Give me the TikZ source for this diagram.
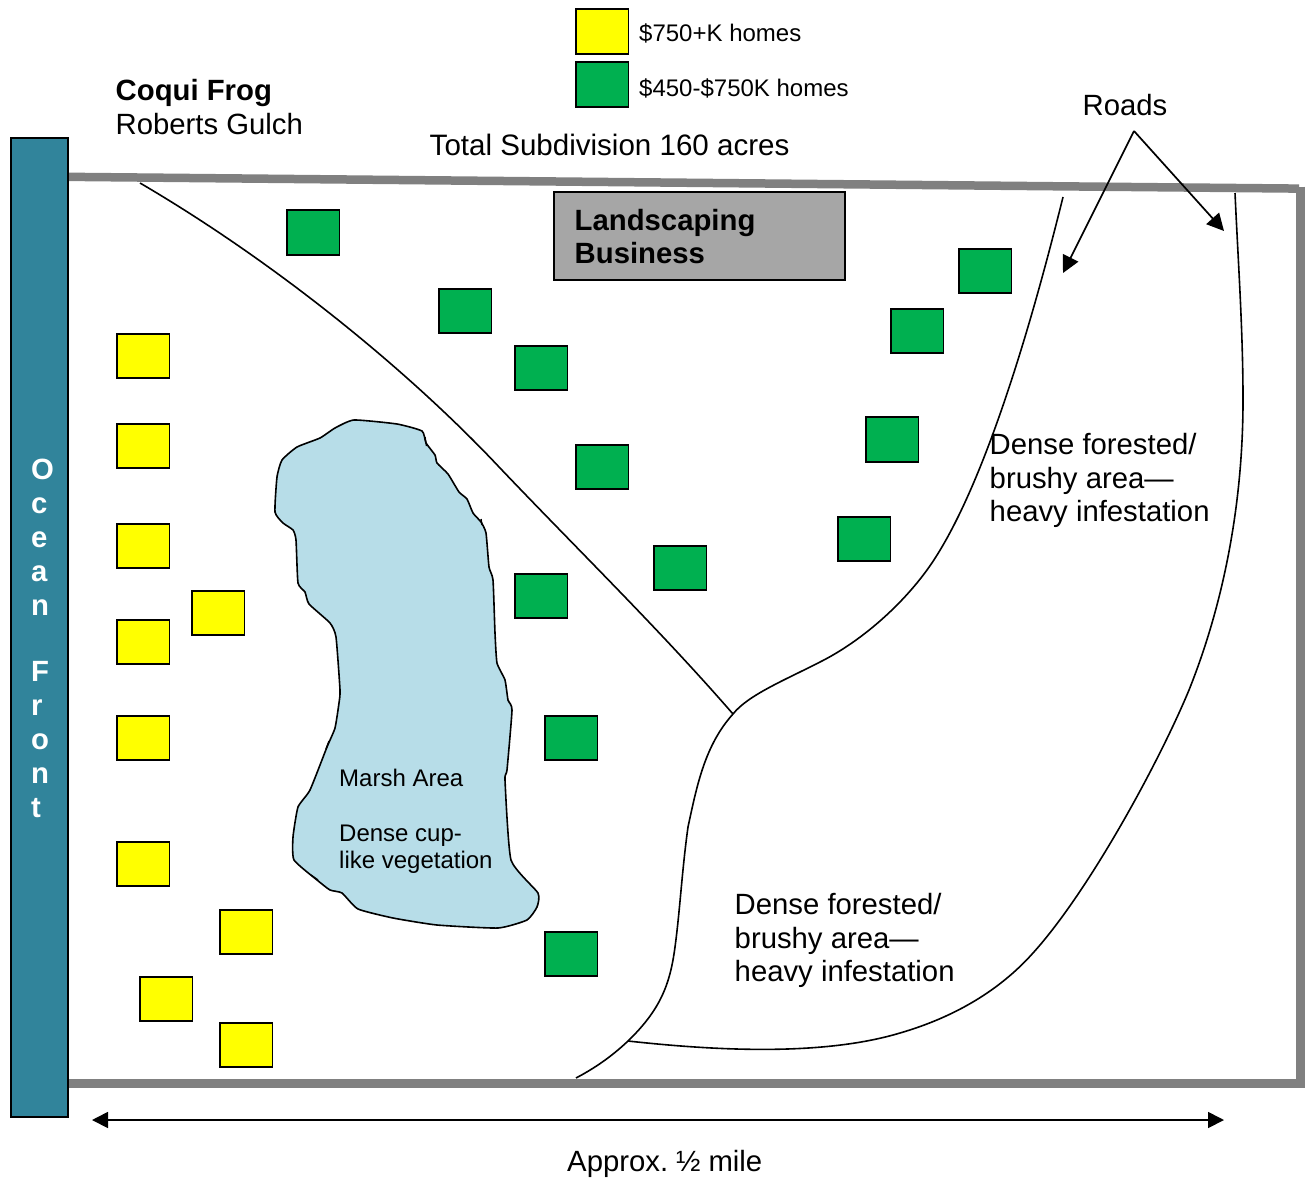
\documentclass[tikz,border=0pt]{standalone}
\usepackage{fontspec}
\setmainfont{Liberation Sans}
\usetikzlibrary{arrows.meta}
\definecolor{homeyellow}{HTML}{FFFF00}
\definecolor{homegreen}{HTML}{00B050}
\definecolor{marshblue}{HTML}{B7DDE8}
\definecolor{oceanteal}{HTML}{31849B}
\definecolor{shopgray}{HTML}{A6A6A6}
\definecolor{fencegray}{HTML}{808080}
\tikzset{
  house/.style={draw=black,line width=1.8pt,minimum width=52.5pt,minimum height=44.7pt,inner sep=0pt,xshift=0.3pt},
  yhome/.style={house,fill=homeyellow},
  ghome/.style={house,fill=homegreen},
  big/.style={font=\fontsize{29.3}{33.7}\selectfont,align=left,inner sep=0pt,anchor=north west},
  mid/.style={font=\fontsize{24}{28}\selectfont,align=left,inner sep=0pt,anchor=north west},
  small/.style={font=\fontsize{24}{27}\selectfont,align=left,inner sep=0pt,anchor=north west},
  fence/.style={draw=fencegray,line width=8.5pt},
  road/.style={draw=black,line width=1.6pt},
  pointer/.style={draw=black,line width=1.7pt,-{Triangle[length=17pt,width=17pt]}}
}
\begin{document}
\begin{tikzpicture}[x=1pt,y=-1pt]
\useasboundingbox (0,0) rectangle (1305,1180);
% boundary
\coordinate (tl) at (64,176.8);
\coordinate (tr) at (1299,188.6);
\coordinate (rt) at (1300.3,186.5);
\coordinate (rb) at (1300.3,1087.7);
\coordinate (bl) at (64,1083.5);
\coordinate (br) at (1304.5,1083.5);
\draw[fence] (tl) -- (tr);
\draw[fence] (rt) -- (rb);
\draw[fence] (bl) -- (br);
% ocean
\node[draw=black,line width=1.5pt,fill=oceanteal,minimum width=57pt,minimum height=979pt,inner sep=0pt] (ocean) at (39.5,627.5) {};
\node[big,font=\fontsize{29.3}{34}\bfseries\selectfont,text=white] (oceantext) at (31,459) {O\\c\\e\\a\\n\\[32pt]F\\r\\o\\n\\t};
% roads
\coordinate (r1start) at (140,183);
\coordinate (r2start) at (1063,197);
\coordinate (r2end) at (576,1078);
\coordinate (r3start) at (1235,193);
\coordinate (j1) at (733,714);
\coordinate (j2) at (628,1041);
\draw[road] (r1start) .. controls (275,262) and (408,370) .. (500,468) .. controls (580,552) and (660,630) .. (j1);
\draw[road] (r2start) .. controls (1035,310) and (985,490) .. (927,570)
  .. controls (900,607) and (860,642) .. (820,662)
  .. controls (785,680) and (748,695) .. (j1)
  .. controls (705,745) and (697,785) .. (688,827)
  .. controls (682,870) and (680,910) .. (675,947)
  .. controls (670,985) and (660,1010) .. (j2)
  .. controls (610,1058) and (593,1069) .. (r2end);
\draw[road] (r3start) .. controls (1238,260) and (1243,330) .. (1243,400)
  .. controls (1243,500) and (1225,600) .. (1189,690)
  .. controls (1160,760) and (1090,890) .. (1033,953)
  .. controls (1000,990) and (955,1017) .. (900,1033)
  .. controls (820,1057) and (710,1050) .. (j2);
% marsh
\draw[black,line width=1.6pt,fill=marshblue] plot[smooth cycle,tension=0.3] coordinates {
(354,420) (397,424) (422,431) (426,443) (435,455) (437,463) (448,474) (459,492) (467,499) (473,513) (481,522) (486,533) (489,567) (493,580) (495,633) (497,663) (505,680) (508,700) (512,710) (507,770) (505,780) (511,860) (538,893) (537,907) (527,920) (498,928) (437,925) (393,918) (358,909) (342,893) (330,890) (317,880) (294,860) (293,837) (298,807) (310,790) (327,747) (335,728) (339,703) (340,690) (336,637) (330,623) (309,604) (305,592) (298,583) (296,540) (293,530) (283,523) (275,512) (277,477) (282,460) (297,447) (320,438) (335,428)};
\coordinate (n1a) at (425,437); \coordinate (n1b) at (426.5,446);
\coordinate (n2a) at (481,519); \coordinate (n2b) at (482,525);
\coordinate (n3a) at (326,749); \coordinate (n3b) at (329,741);
\coordinate (n4a) at (311,875); \coordinate (n4b) at (318,880);
\draw[black,line width=1.4pt] (n1a) -- (n1b) (n2a) -- (n2b) (n3a) -- (n3b) (n4a) -- (n4b);
\node[small] (marsh) at (339,769) {Marsh Area\\[27.5pt]Dense cup-\\like vegetation};
% green homes
\foreach \n/\p in {g1/{(313,232.5)},g2/{(465,311)},g3/{(541,368)},g4/{(602,467)},g5/{(680,568)},g6/{(541,596)},g7/{(571,738)},g8/{(571,954)},g9/{(985,271)},g10/{(917,331)},g11/{(892,439.4)},g12/{(864,539)},lg/{(602,84.5)}}
  \node[ghome] (\n) at \p {};
% yellow homes
\foreach \n/\p in {y1/{(143,356)},y2/{(143,446)},y3/{(143,546)},y4/{(218,613)},y5/{(143,642)},y6/{(143,738)},y7/{(143,864)},y8/{(246,932)},y9/{(166,999)},y10/{(246,1045)},ly/{(602,31.5)}}
  \node[yhome] (\n) at \p {};
% landscaping
\node[draw=black,line width=1.5pt,fill=shopgray,minimum width=291pt,minimum height=88pt,inner sep=0pt] (shop) at (699.5,236) {};
\node[big,font=\fontsize{29.3}{33}\bfseries\selectfont] (shoptext) at (574.5,209) {Landscaping\\Business};
% labels
\node[big] (title) at (115.5,79) {\textbf{Coqui Frog}\\Roberts Gulch};
\node[mid] (leg1) at (639,23.5) {\$750+K homes};
\node[mid] (leg2) at (639,78.5) {\$450-\$750K homes};
\node[big,font=\fontsize{29.55}{33.7}\selectfont] (total) at (429.5,134) {Total Subdivision 160 acres};
\node[big] (roads) at (1082.5,94) {Roads};
\node[big] (dense1) at (989.5,433) {Dense forested/\\brushy area—\\heavy infestation};
\node[big] (dense2) at (734.5,893) {Dense forested/\\brushy area—\\heavy infestation};
\node[big] (approx) at (567,1150) {Approx.\hspace{-3pt} ½ mile};
% pointers
\coordinate (apex) at (1134,131);
\coordinate (rtip1) at (1063,273);
\coordinate (rtip2) at (1224,231);
\coordinate (wl) at (92,1120);
\coordinate (wr) at (1224,1120);
\draw[pointer] (apex) -- (rtip1);
\draw[pointer] (apex) -- (rtip2);
\draw[draw=black,line width=1.7pt,{Triangle[length=16pt,width=16pt]}-{Triangle[length=16pt,width=16pt]}] (wl) -- (wr);
\end{tikzpicture}
\end{document}
